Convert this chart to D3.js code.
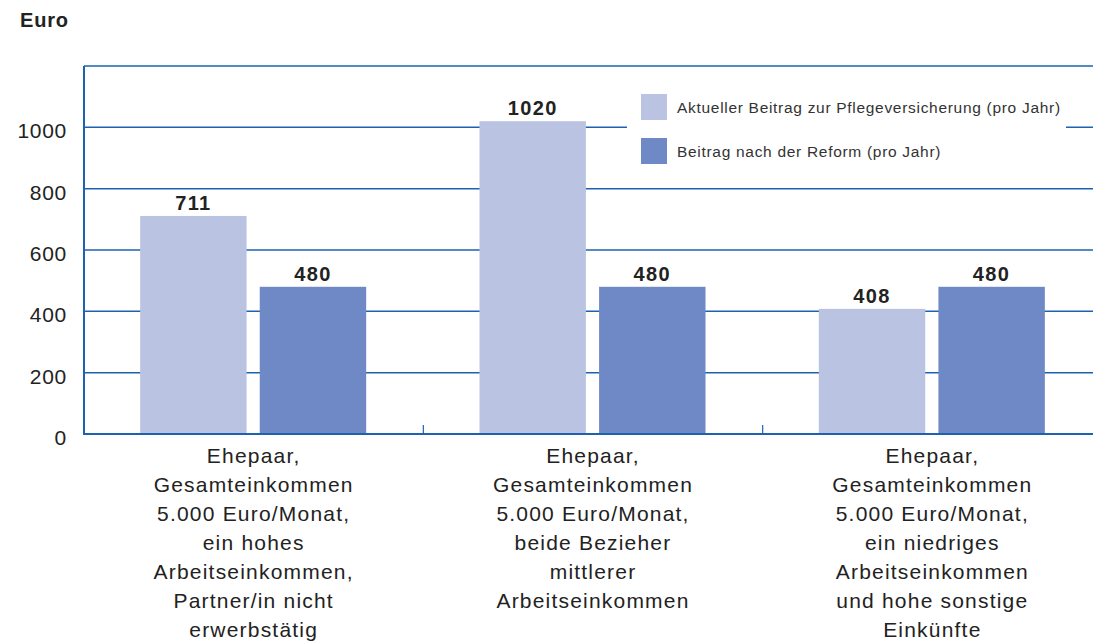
<!DOCTYPE html>
<html><head><meta charset="utf-8">
<script src="https://cdn.jsdelivr.net/npm/d3@7"></script>
<style>body{margin:0;background:#fff;font-family:"Liberation Sans",Arial,sans-serif;}</style>
</head><body><svg id="c" width="1093" height="644"></svg>
<script>
const categories = [
  ["Ehepaar,","Gesamteinkommen","5.000 Euro/Monat,","ein hohes","Arbeitseinkommen,","Partner/in nicht","erwerbstätig"],
  ["Ehepaar,","Gesamteinkommen","5.000 Euro/Monat,","beide Bezieher","mittlerer","Arbeitseinkommen"],
  ["Ehepaar,","Gesamteinkommen","5.000 Euro/Monat,","ein niedriges","Arbeitseinkommen","und hohe sonstige","Einkünfte"]
];
const seriesNames = ["Aktueller Beitrag zur Pflegeversicherung (pro Jahr)","Beitrag nach der Reform (pro Jahr)"];
const current = [711, 1020, 408];
const reform = [480, 480, 480];
const yTicks = [0, 200, 400, 600, 800, 1000];
const colors = ["#bac4e2", "#6e89c5"];
const lineColor = "#1d62b1";

(function(){
const svg = d3.select("#c");
const mLeft = 84, mRight = 1102, mTop = 66, mBottom = 434;
const x = d3.scaleBand().domain(d3.range(categories.length)).range([mLeft, mRight]).paddingInner(0).paddingOuter(0);
const y = d3.scaleLinear().domain([0, 1200]).range([mBottom, mTop]);
const xs = d3.scaleBand().domain([0,1]).range([-113.5, 112.5]).paddingInner(0.11);

svg.append("g").selectAll("line").data(yTicks.filter(d=>d>0).concat([1200])).join("line")
  .attr("x1", mLeft).attr("x2", 1093).attr("y1", d=>y(d)).attr("y2", d=>y(d))
  .attr("stroke", lineColor).attr("stroke-width", 1.5);

const yAxis = d3.axisLeft(y).tickValues(yTicks).tickSize(0).tickPadding(17).tickFormat(d3.format("d"));
const ga = svg.append("g").attr("transform", `translate(${mLeft},0)`).call(yAxis)
  .attr("font-size", 21).attr("font-family", "Liberation Sans, Arial, sans-serif");
ga.select(".domain").remove();
ga.selectAll("text").attr("fill", "#222").attr("letter-spacing", 0.7).attr("dy", "0.5em");

const data = categories.map((c,i)=>[current[i], reform[i]]);
const groups = svg.append("g").selectAll("g").data(data).join("g")
  .attr("transform", (d,i)=>`translate(${x(i)+x.bandwidth()/2},0)`);
groups.selectAll("rect").data(d=>d).join("rect")
  .attr("x", (d,j)=>xs(j)).attr("width", xs.bandwidth())
  .attr("y", d=>y(d)).attr("height", d=>y(0)-y(d))
  .attr("fill", (d,j)=>colors[j]);
groups.selectAll("text").data(d=>d).join("text")
  .attr("x", (d,j)=>xs(j)+xs.bandwidth()/2).attr("y", d=>y(d)-6)
  .attr("text-anchor","middle").attr("font-size", 20).attr("font-weight","bold").attr("fill","#222")
  .attr("letter-spacing", 1.4)
  .text(d=>d);

svg.append("line").attr("x1", mLeft).attr("x2", mLeft).attr("y1", mTop).attr("y2", mBottom+1)
  .attr("stroke", lineColor).attr("stroke-width", 2);
svg.append("line").attr("x1", mLeft).attr("x2", 1093).attr("y1", mBottom).attr("y2", mBottom)
  .attr("stroke", lineColor).attr("stroke-width", 2.2);
svg.append("g").selectAll("line").data(d3.range(1, categories.length)).join("line")
  .attr("x1", d=>x(d)).attr("x2", d=>x(d)).attr("y1", mBottom).attr("y2", mBottom-9)
  .attr("stroke", lineColor).attr("stroke-width", 1.2);

const cl = svg.append("g").selectAll("text").data(categories).join("text")
  .attr("text-anchor","middle").attr("font-size", 21).attr("fill","#222").attr("letter-spacing", 1.2)
  .attr("transform",(d,i)=>`translate(${x(i)+x.bandwidth()/2},463)`);
cl.selectAll("tspan").data(d=>d).join("tspan").attr("x",0).attr("dy",(d,k)=>k===0?0:29).text(d=>d);

const lg = svg.append("g");
lg.append("rect").attr("x",627).attr("y",72).attr("width",439).attr("height",110).attr("fill","#fff");
const li = lg.selectAll("g").data(seriesNames).join("g").attr("transform",(d,i)=>`translate(641,${94+i*44})`);
li.append("rect").attr("width",26).attr("height",26).attr("fill",(d,i)=>colors[i]);
li.append("text").attr("x",36).attr("y",19).attr("font-size",15.5).attr("fill","#333").attr("letter-spacing",0.7).text(d=>d);

svg.append("text").attr("x",20).attr("y",27).attr("font-size",20).attr("font-weight","bold").attr("fill","#222").attr("letter-spacing",0.8).text("Euro");
})();
</script></body></html>
